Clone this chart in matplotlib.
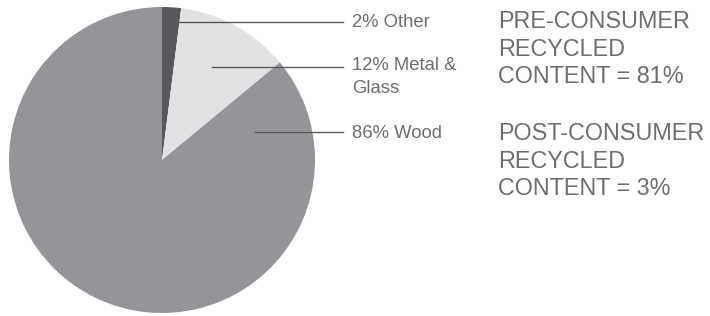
import matplotlib.pyplot as plt

# data
labels = ['2% Other', '12% Metal &\nGlass', '86% Wood']
shares = [2, 12, 86]
colors = ['#58595b', '#e1e2e3', '#939598']
notes = ['PRE-CONSUMER\nRECYCLED\nCONTENT = 81%',
         'POST-CONSUMER\nRECYCLED\nCONTENT = 3%']

plt.rcParams['font.family'] = ['Liberation Sans', 'DejaVu Sans']

W, H = 710, 316
fig = plt.figure(figsize=(W / 100, H / 100), dpi=100)
ax = fig.add_axes([0, 0, 1, 1])

cx, cy, r = 162, H - 160, 153
ax.pie(shares, colors=colors, startangle=90, counterclock=False,
       center=(cx, cy), radius=r, frame=True,
       wedgeprops=dict(linewidth=0))

ax.set_xlim(0, W)
ax.set_ylim(0, H)
ax.set_aspect('equal')
ax.axis('off')

# leader lines + labels (pixel layout, y from top)
line_y = [22, 67, 132]
line_x0 = [172, 212, 255]
base_y = [27, 70, 138]
for lab, ly, lx, by in zip(labels, line_y, line_x0, base_y):
    ax.plot([lx, 343], [H - ly, H - ly], color='#58595b', lw=1)
    for k, part in enumerate(lab.split('\n')):
        ax.text(352, H - by - 23 * k, part, fontsize=13.3, color='#6d6e71',
                va='baseline', ha='left')

note_base = [28, 140]
for n, nb in zip(notes, note_base):
    for k, part in enumerate(n.split('\n')):
        ax.text(498, H - nb - 27.5 * k, part, fontsize=16.8, color='#6d6e71',
                va='baseline', ha='left')

plt.savefig('out.png', dpi=100)
